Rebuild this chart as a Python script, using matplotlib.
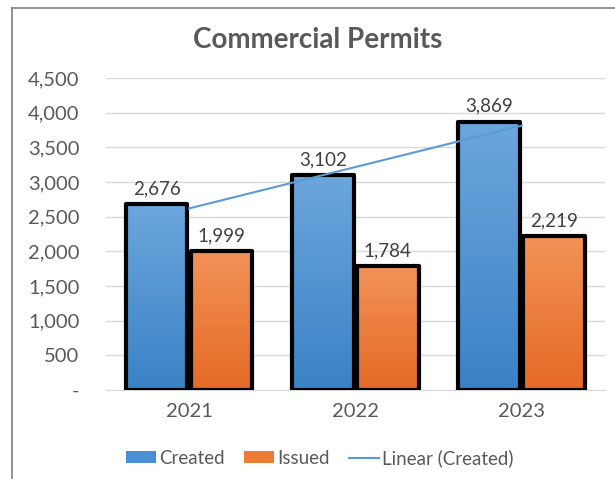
import numpy as np
import matplotlib.pyplot as plt
from matplotlib.patches import Patch
from matplotlib.lines import Line2D
from matplotlib.colors import LinearSegmentedColormap

years = ["2021", "2022", "2023"]
created = [2676, 3102, 3869]
issued = [1999, 1784, 2219]
yticks = [0, 500, 1000, 1500, 2000, 2500, 3000, 3500, 4000, 4500]

plt.rcParams['font.family'] = ['Lato', 'DejaVu Sans']

fig = plt.figure(figsize=(6.15, 4.79), dpi=100)
ax = fig.add_axes([0.1724, 0.1858, 0.811, 0.6514])

x = np.arange(len(years))
w = 0.37
off = 0.195

blue_cmap = LinearSegmentedColormap.from_list("b", ["#3A82C6", "#6CA6DD"])
orange_cmap = LinearSegmentedColormap.from_list("o", ["#E56A26", "#F39257"])
grad = np.linspace(0, 1, 256).reshape(-1, 1)

def grad_bars(xs, vals, cmap):
    bars = ax.bar(xs, vals, w, facecolor="none", edgecolor="black",
                  linewidth=3, joinstyle="round", zorder=4)
    for b in bars:
        x0, y0 = b.get_x(), b.get_y()
        im = ax.imshow(grad, cmap=cmap, aspect="auto", origin="lower",
                       extent=[x0, x0 + b.get_width(), y0, y0 + b.get_height()],
                       zorder=3)
        im.set_clip_path(b)
    for b, v in zip(bars, vals):
        ax.annotate(f"{v:,}", (b.get_x() + b.get_width() / 2, v),
                    xytext=(0, 5), textcoords="offset points",
                    ha="center", va="bottom", fontsize=13.5, color="#404040")
    return bars

grad_bars(x - off, created, blue_cmap)
grad_bars(x + off, issued, orange_cmap)

# linear trendline of created
k, c = np.polyfit(x, created, 1)
ax.plot(x, k * x + c, color="#5B9BD5", linewidth=1.5, zorder=5)

ax.set_xlim(-0.5, 2.5)
ax.set_ylim(0, 4500)
ax.set_yticks(yticks)
ax.set_yticklabels(["-" if t == 0 else f"{t:,}" for t in yticks])
ax.set_xticks(x)
ax.set_xticklabels(years)
ax.tick_params(axis="both", length=0, labelsize=14.5, colors="#595959")
ax.tick_params(axis="y", pad=19)
ax.tick_params(axis="x", pad=9)
ax.grid(axis="y", color="#D9D9D9", linewidth=1)
ax.set_axisbelow(True)
for s in ["top", "right", "left"]:
    ax.spines[s].set_visible(False)
ax.spines["bottom"].set_color("#D9D9D9")

fig.text(0.517, 0.917, "Commercial Permits", ha="center", va="center",
         fontsize=20, fontweight="bold", color="#595959")

handles = [Patch(facecolor="#4A8FD4", edgecolor="none"),
           Patch(facecolor="#EE7B35", edgecolor="none"),
           Line2D([0], [0], color="#5B9BD5", linewidth=1.5)]
fig.legend(handles, ["Created", "Issued", "Linear (Created)"],
           loc="center", bbox_to_anchor=(0.52, 0.044), ncol=3, frameon=False,
           fontsize=13.5, labelcolor="#595959", handlelength=1.6,
           handleheight=0.6, handletextpad=0.15, columnspacing=1.05)

# outer frame (cropped chart border)
fig.add_artist(Line2D([12 / 615, 12 / 615], [0, 1 - 8 / 479],
                      color="#7F7F7F", linewidth=1.2))
fig.add_artist(Line2D([12 / 615, 1], [1 - 8 / 479, 1 - 8 / 479],
                      color="#7F7F7F", linewidth=1.2))

fig.savefig("out.png", dpi=100)
